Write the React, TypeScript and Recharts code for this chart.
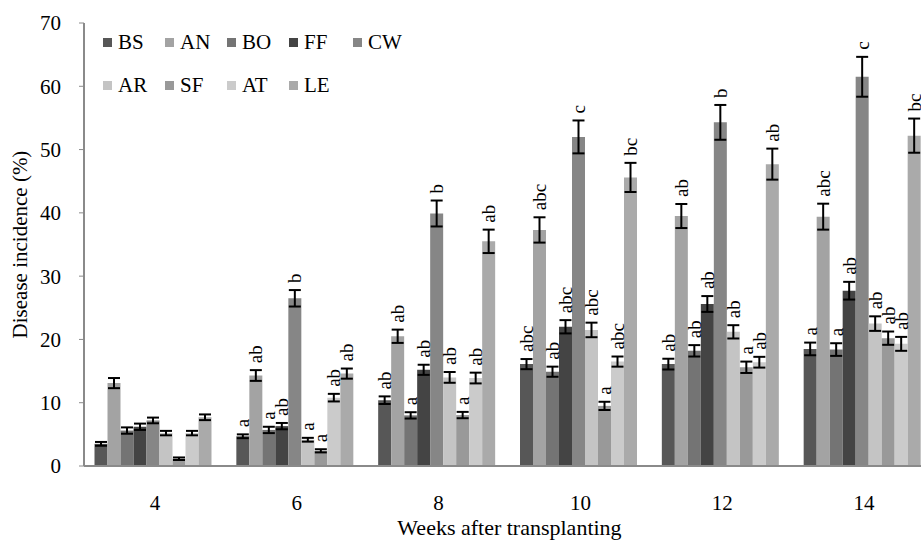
import React from 'react';
import { BarChart, Bar, XAxis, YAxis, ErrorBar, LabelList, Legend } from 'recharts';

const weeks = ['4', '6', '8', '10', '12', '14'];
const seriesNames = ['BS', 'AN', 'BO', 'FF', 'CW', 'AR', 'SF', 'AT', 'LE'];
const seriesColors = ['#575757', '#a3a3a3', '#747474', '#444444', '#868686', '#c4c4c4', '#999999', '#cbcbcb', '#aaaaaa'];
const yTicks = [0, 10, 20, 30, 40, 50, 60, 70];

const bsValues = [3.5, 4.7, 10.4, 16.1, 16.1, 18.5];
const bsErrors = [0.3, 0.3, 0.6, 0.8, 0.85, 1.0];
const bsLetters = ['', 'a', 'ab', 'abc', 'ab', 'a'];

const anValues = [13.1, 14.3, 20.5, 37.3, 39.5, 39.4];
const anErrors = [0.8, 0.85, 1.05, 2.0, 1.9, 2.05];
const anLetters = ['', 'ab', 'ab', 'abc', 'ab', 'abc'];

const boValues = [5.6, 5.7, 8.0, 14.9, 18.2, 18.4];
const boErrors = [0.5, 0.5, 0.5, 0.8, 0.9, 1.0];
const boLetters = ['', 'a', 'a', 'ab', 'ab', 'a'];

const ffValues = [6.2, 6.3, 15.2, 22.0, 25.6, 27.7];
const ffErrors = [0.5, 0.5, 0.8, 1.05, 1.25, 1.4];
const ffLetters = ['', 'ab', 'ab', 'abc', 'ab', 'ab'];

const cwValues = [7.2, 26.5, 39.9, 52.0, 54.3, 61.5];
const cwErrors = [0.45, 1.3, 2.05, 2.6, 2.75, 3.15];
const cwLetters = ['', 'b', 'b', 'c', 'b', 'c'];

const arValues = [5.2, 4.15, 14.0, 21.5, 21.2, 22.5];
const arErrors = [0.35, 0.3, 0.85, 1.15, 1.05, 1.15];
const arLetters = ['', 'a', 'ab', 'abc', 'ab', 'ab'];

const sfValues = [1.15, 2.4, 8.05, 9.5, 15.6, 20.2];
const sfErrors = [0.2, 0.25, 0.5, 0.65, 0.9, 1.05];
const sfLetters = ['', 'a', 'a', 'a', 'a', 'ab'];

const atValues = [5.2, 10.8, 13.9, 16.5, 16.4, 19.3];
const atErrors = [0.35, 0.6, 0.85, 0.8, 0.85, 1.1];
const atLetters = ['', 'ab', 'ab', 'abc', 'ab', 'ab'];

const leValues = [7.7, 14.6, 35.5, 45.6, 47.7, 52.2];
const leErrors = [0.45, 0.8, 1.85, 2.3, 2.45, 2.7];
const leLetters = ['', 'ab', 'ab', 'bc', 'ab', 'bc'];

const seriesValues = [bsValues, anValues, boValues, ffValues, cwValues, arValues, sfValues, atValues, leValues];
const seriesErrors = [bsErrors, anErrors, boErrors, ffErrors, cwErrors, arErrors, sfErrors, atErrors, leErrors];
const seriesLetters = [bsLetters, anLetters, boLetters, ffLetters, cwLetters, arLetters, sfLetters, atLetters, leLetters];

const data = weeks.map((w, i) => {
  const row: any = { week: w };
  seriesNames.forEach((s, k) => {
    row[s] = seriesValues[k][i];
    row[s + '_err'] = seriesErrors[k][i];
    row[s + '_lbl'] = seriesLetters[k][i];
  });
  return row;
});

const FONT = '"Liberation Serif", "Times New Roman", serif';

const makeLabel = (k: number) => (props: any) => {
  const { x, y, width, height, value, index } = props;
  if (!value || index == null) return null;
  const v = seriesValues[k][index];
  const e = seriesErrors[k][index];
  const errPx = v ? (e * Number(height)) / v : 0;
  const cx = Number(x) + Number(width) / 2;
  const by = Number(y) - errPx - 7;
  return (
    <text
      x={cx}
      y={by}
      transform={`rotate(-90, ${cx}, ${by})`}
      textAnchor="start"
      dominantBaseline="central"
      style={{ fontFamily: FONT, fontSize: 19, fill: '#000' }}
    >
      {value}
    </text>
  );
};

const XTick = (props: any) => {
  const { x, y, payload } = props;
  return (
    <text x={x} y={Number(y) + 36} textAnchor="middle" style={{ fontFamily: FONT, fontSize: 21, fill: '#000' }}>
      {payload.value}
    </text>
  );
};

const LegendContent = () => (
  <div style={{ position: 'relative', width: 330, height: 90, fontFamily: FONT, fontSize: 21 }}>
    {seriesNames.map((s, k) => {
      const row = k < 5 ? 0 : 1;
      const col = k < 5 ? k : k - 5;
      const colLeft = [0, 62, 124, 186, 250][col];
      return (
        <div
          key={s}
          style={{ position: 'absolute', left: colLeft, top: row * 43, height: 22, lineHeight: '22px', whiteSpace: 'nowrap', color: '#000' }}
        >
          <span style={{ display: 'inline-block', width: 9, height: 9, background: seriesColors[k], marginRight: 6, verticalAlign: 'middle', position: 'relative', top: -2 }} />
          {s}
        </div>
      );
    })}
  </div>
);

export default function App() {
  return (
    <div style={{ position: 'fixed', left: 0, top: 0, width: 921, height: 540, overflow: 'hidden', background: '#fff' }}>
      <BarChart
        width={940}
        height={540}
        data={data}
        margin={{ top: 23, right: 5, bottom: 0, left: 0 }}
        barCategoryGap={10.5}
        barGap={0}
      >
        <XAxis
          dataKey="week"
          height={74}
          tickLine={false}
          axisLine={{ stroke: '#8a8a8a', strokeWidth: 2 }}
          tick={<XTick />}
          label={{ value: 'Weeks after transplanting', position: 'insideBottom', offset: 5, style: { fill: '#000', fontSize: 22, fontFamily: FONT } }}
        />
        <YAxis
          width={84}
          domain={[0, 70]}
          ticks={yTicks}
          interval={0}
          tickSize={5}
          tickMargin={18}
          tickLine={{ stroke: '#8a8a8a' }}
          axisLine={{ stroke: '#8a8a8a', strokeWidth: 2 }}
          tick={{ fill: '#000', fontSize: 21, fontFamily: FONT }}
          label={{ value: 'Disease incidence (%)', angle: -90, position: 'insideLeft', offset: 20, style: { textAnchor: 'middle', fill: '#000', fontSize: 21, fontFamily: FONT } }}
        />
        <Legend
          layout="horizontal"
          verticalAlign="middle"
          align="center"
          content={<LegendContent />}
          wrapperStyle={{ left: 103, top: 31, width: 330 }}
        />
        {seriesNames.map((s, k) => (
          <Bar key={s} dataKey={s} fill={seriesColors[k]} isAnimationActive={false}>
            <ErrorBar dataKey={s + '_err'} width={6} stroke="#000" strokeWidth={2} />
            <LabelList dataKey={s + '_lbl'} content={makeLabel(k)} />
          </Bar>
        ))}
      </BarChart>
    </div>
  );
}
